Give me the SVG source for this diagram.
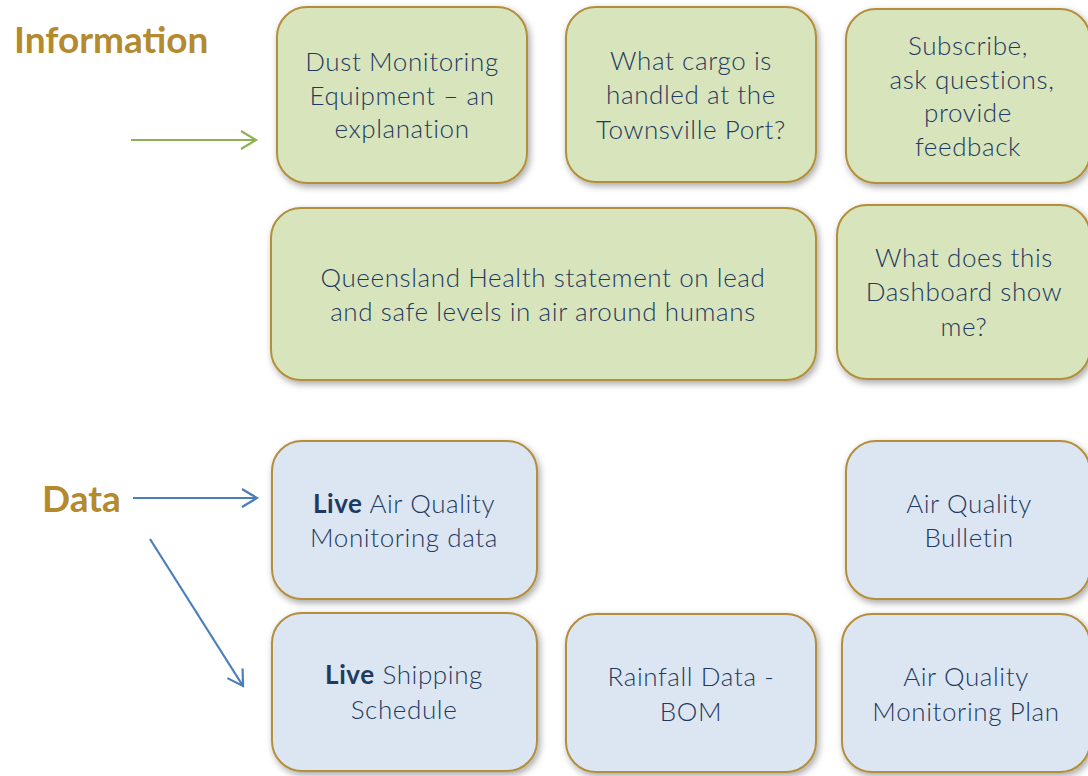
<svg xmlns="http://www.w3.org/2000/svg" width="1088" height="776" viewBox="0 0 1088 776">
<defs>
<filter id="sh" x="-10%" y="-10%" width="125%" height="130%">
<feDropShadow dx="2" dy="3" stdDeviation="3.5" flood-color="#000" flood-opacity="0.35"/>
</filter>
<marker id="ag" markerWidth="20" markerHeight="20" refX="17" refY="10" orient="auto" markerUnits="userSpaceOnUse">
<path d="M2,1 L17,10 L2,19" fill="none" stroke="#8db255" stroke-width="2.2"/>
</marker>
<marker id="ab" markerWidth="20" markerHeight="20" refX="17" refY="10" orient="auto" markerUnits="userSpaceOnUse">
<path d="M2,1 L17,10 L2,19" fill="none" stroke="#4a7ebb" stroke-width="2.2"/>
</marker>
</defs>
<style>
.g{fill:#d8e4bc;stroke:#b38e3a;stroke-width:2;filter:url(#sh)}
.b{fill:#dce6f2;stroke:#b38e3a;stroke-width:2;filter:url(#sh)}
.t{font-family:Lato,"Open Sans",sans-serif;font-size:26px;letter-spacing:0.6px;fill:#1f3a60;text-anchor:middle;font-weight:300}
.h{font-family:Lato,"Open Sans",sans-serif;font-size:37px;font-weight:bold;fill:#b38a2e}
.bold{font-weight:bold}
</style>
<rect width="1088" height="776" fill="#fff"/>
<text class="h" x="14" y="53">Information</text>
<text class="h" x="42" y="512">Data</text>
<g id="connectors">
<line x1="131" y1="140" x2="256" y2="140" stroke="#8db255" stroke-width="2.2" marker-end="url(#ag)"/>
<line x1="133" y1="498" x2="257" y2="498" stroke="#4a7ebb" stroke-width="2.2" marker-end="url(#ab)"/>
<line x1="150" y1="539" x2="243" y2="686" stroke="#4a7ebb" stroke-width="2.2" marker-end="url(#ab)"/>
</g>
<g id="n1"><rect class="g" x="277" y="7" width="250" height="176" rx="30"/>
<text class="t" x="402"><tspan x="402" y="71">Dust Monitoring</tspan><tspan x="402" y="105">Equipment – an</tspan><tspan x="402" y="138">explanation</tspan></text></g>
<g id="n2"><rect class="g" x="566" y="7" width="250" height="175" rx="30"/>
<text class="t"><tspan x="691" y="70">What cargo is</tspan><tspan x="691" y="104">handled at the</tspan><tspan x="691" y="139">Townsville Port?</tspan></text></g>
<g id="n3"><rect class="g" x="846" y="9" width="244" height="174" rx="30"/>
<text class="t"><tspan x="968" y="55">Subscribe,</tspan><tspan x="972" y="89">ask questions,</tspan><tspan x="968" y="122">provide</tspan><tspan x="968" y="156">feedback</tspan></text></g>
<g id="n4"><rect class="g" x="271" y="208" width="545" height="172" rx="30"/>
<text class="t"><tspan x="543" y="287">Queensland Health statement on lead</tspan><tspan x="543" y="321">and safe levels in air around humans</tspan></text></g>
<g id="n5"><rect class="g" x="837" y="205" width="253" height="174" rx="30"/>
<text class="t"><tspan x="964" y="267">What does this</tspan><tspan x="964" y="301">Dashboard show</tspan><tspan x="964" y="336">me?</tspan></text></g>
<g id="n6"><rect class="b" x="272" y="441" width="265" height="158" rx="30"/>
<text class="t"><tspan x="404" y="513"><tspan class="bold">Live</tspan> Air Quality</tspan><tspan x="404" y="547">Monitoring data</tspan></text></g>
<g id="n7"><rect class="b" x="846" y="441" width="244" height="158" rx="30"/>
<text class="t"><tspan x="969" y="513">Air Quality</tspan><tspan x="969" y="547">Bulletin</tspan></text></g>
<g id="n8"><rect class="b" x="272" y="613" width="265" height="158" rx="30"/>
<text class="t"><tspan x="404" y="684"><tspan class="bold">Live</tspan> Shipping</tspan><tspan x="404" y="719">Schedule</tspan></text></g>
<g id="n9"><rect class="b" x="566" y="614" width="250" height="158" rx="30"/>
<text class="t"><tspan x="691" y="686">Rainfall Data -</tspan><tspan x="691" y="721">BOM</tspan></text></g>
<g id="n10"><rect class="b" x="842" y="614" width="248" height="158" rx="30"/>
<text class="t"><tspan x="966" y="686">Air Quality</tspan><tspan x="966" y="721">Monitoring Plan</tspan></text></g>
</svg>
